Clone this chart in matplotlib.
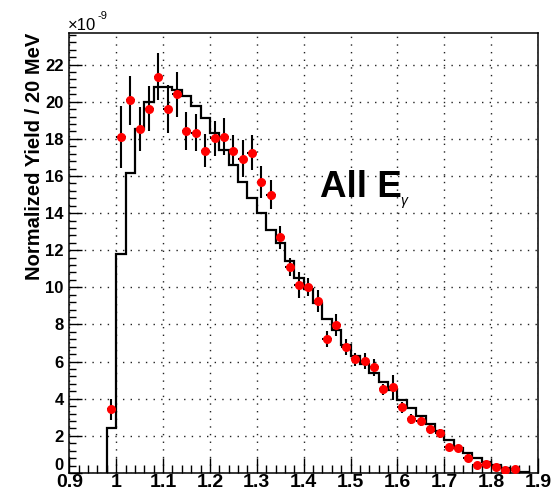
import numpy as np
import matplotlib
matplotlib.use("Agg")
import matplotlib.pyplot as plt
from matplotlib.ticker import MultipleLocator, FixedLocator, FixedFormatter

plt.rcParams['font.family'] = ['Liberation Sans', 'DejaVu Sans']

# ---- data (units of 1e-9) ----
bin_edges = [0.98, 1.00, 1.02, 1.04, 1.06, 1.08, 1.10, 1.12, 1.14, 1.16, 1.18,
             1.20, 1.22, 1.24, 1.26, 1.28, 1.30, 1.32, 1.34, 1.36, 1.38,
             1.40, 1.42, 1.44, 1.46, 1.48, 1.50, 1.52, 1.54, 1.56, 1.58,
             1.60, 1.62, 1.64, 1.66, 1.68, 1.70, 1.72, 1.74, 1.76, 1.78,
             1.80, 1.82, 1.84, 1.86, 1.88]
sim_yield = [2.44, 11.8, 16.15, 18.54, 20.0, 20.79, 20.79, 20.65, 20.29, 19.75,
             19.1, 18.31, 17.41, 16.6, 15.7, 14.8, 14.0, 13.1, 12.4, 11.4,
             10.5, 9.9, 9.15, 8.3, 7.7, 6.9, 6.3, 5.85, 5.4, 4.9,
             4.45, 3.95, 3.5, 3.05, 2.65, 2.25, 1.8, 1.33, 1.06, 0.79,
             0.6, 0.43, 0.25, 0.15, 0.08]

data_x = [0.99, 1.01, 1.03, 1.05, 1.07, 1.09, 1.11, 1.13, 1.15, 1.17,
          1.19, 1.21, 1.23, 1.25, 1.27, 1.29, 1.31, 1.33, 1.35, 1.37,
          1.39, 1.41, 1.43, 1.45, 1.47, 1.49, 1.51, 1.53, 1.55, 1.57,
          1.59, 1.61, 1.63, 1.65, 1.67, 1.69, 1.71, 1.73, 1.75, 1.77,
          1.79, 1.81, 1.83, 1.85]
data_y = [3.43, 18.11, 20.07, 18.53, 19.62, 21.35, 19.62, 20.39, 18.44, 18.33,
          17.36, 18.02, 18.11, 17.36, 16.93, 17.25, 15.65, 15.0, 12.7, 11.09,
          10.13, 10.03, 9.27, 7.21, 7.98, 6.78, 6.13, 6.04, 5.7, 4.51,
          4.62, 3.54, 2.89, 2.82, 2.37, 2.14, 1.38, 1.33, 0.83, 0.43,
          0.46, 0.34, 0.15, 0.22]
data_err = [0.55, 1.66, 1.33, 1.2, 1.21, 1.27, 1.3, 1.2, 1.03, 1.0,
            0.9, 0.93, 0.99, 0.85, 1.0, 0.94, 0.86, 0.76, 0.63, 0.5,
            0.69, 0.5, 0.58, 0.45, 0.58, 0.42, 0.36, 0.43, 0.45, 0.31,
            0.67, 0.31, 0.27, 0.3, 0.25, 0.25, 0.2, 0.2, 0.18, 0.15,
            0.15, 0.12, 0.1, 0.1]
bin_half_width = 0.01

x_ticks = [0.9, 1.0, 1.1, 1.2, 1.3, 1.4, 1.5, 1.6, 1.7, 1.8, 1.9]
x_ticklabels = ['0.9', '1', '1.1', '1.2', '1.3', '1.4', '1.5', '1.6', '1.7', '1.8', '1.9']
y_ticks = [0, 2, 4, 6, 8, 10, 12, 14, 16, 18, 20, 22]

# ---- figure ----
W, H = 555, 493
fig = plt.figure(figsize=(W / 100, H / 100), dpi=100)
L, R, T, B = 69.3, 538.0, 33.0, 473.0
ax = fig.add_axes([L / W, (H - B) / H, (R - L) / W, (B - T) / H])

ax.set_xlim(0.9, 1.9)
ax.set_ylim(0, 23.7)

ax.grid(True, which='major', linestyle=(0, (1, 4.5)), color='#222222', linewidth=1.0)
ax.set_axisbelow(True)

ax.stairs(sim_yield, bin_edges, baseline=0, color='black', linewidth=1.6, zorder=2)

ax.errorbar(data_x, data_y, yerr=data_err, xerr=bin_half_width, fmt='o',
            color='red', markersize=6.5, markeredgewidth=0, ecolor='black',
            elinewidth=1.5, capsize=0, zorder=3)

ax.xaxis.set_major_locator(FixedLocator(x_ticks))
ax.xaxis.set_major_formatter(FixedFormatter(x_ticklabels))
ax.xaxis.set_minor_locator(MultipleLocator(0.02))
ax.yaxis.set_major_locator(FixedLocator(y_ticks))
ax.yaxis.set_minor_locator(MultipleLocator(0.4))

ax.tick_params(which='both', direction='in', top=False, right=False, width=1.0, color='black')
ax.xaxis.set_tick_params(which='major', length=11, pad=1)
ax.xaxis.set_tick_params(which='minor', length=5.8)
ax.yaxis.set_tick_params(which='major', length=9, pad=4)
ax.yaxis.set_tick_params(which='minor', length=5)

for lab in ax.get_xticklabels():
    lab.set_fontsize(14)
    lab.set_fontweight('bold')
for lab in ax.get_yticklabels():
    lab.set_fontsize(12)
    lab.set_fontweight('bold')

# lift the "0" label on the y axis slightly so it sits above the x labels
ax.yaxis.get_major_ticks()[0].label1.set_verticalalignment('bottom')

for sp in ax.spines.values():
    sp.set_linewidth(1.1)
    sp.set_color('black')

ax.set_ylabel('Normalized Yield / 20 MeV', fontsize=14.5, fontweight='bold', loc='top', labelpad=1)

ax.text(1.434, 14.88, 'All E', fontsize=26.5, fontweight='bold', ha='left', va='baseline', zorder=4)
ax.text(1.607, 14.45, 'γ', fontsize=10, ha='left', va='baseline', zorder=4, style='italic')

fig.text(68 / W, 1 - 30 / H, '×10', fontsize=12, ha='left', va='baseline')
fig.text(98 / W, 1 - 19 / H, '-9', fontsize=8, ha='left', va='baseline')

fig.savefig('out.png', dpi=100, facecolor='white')
